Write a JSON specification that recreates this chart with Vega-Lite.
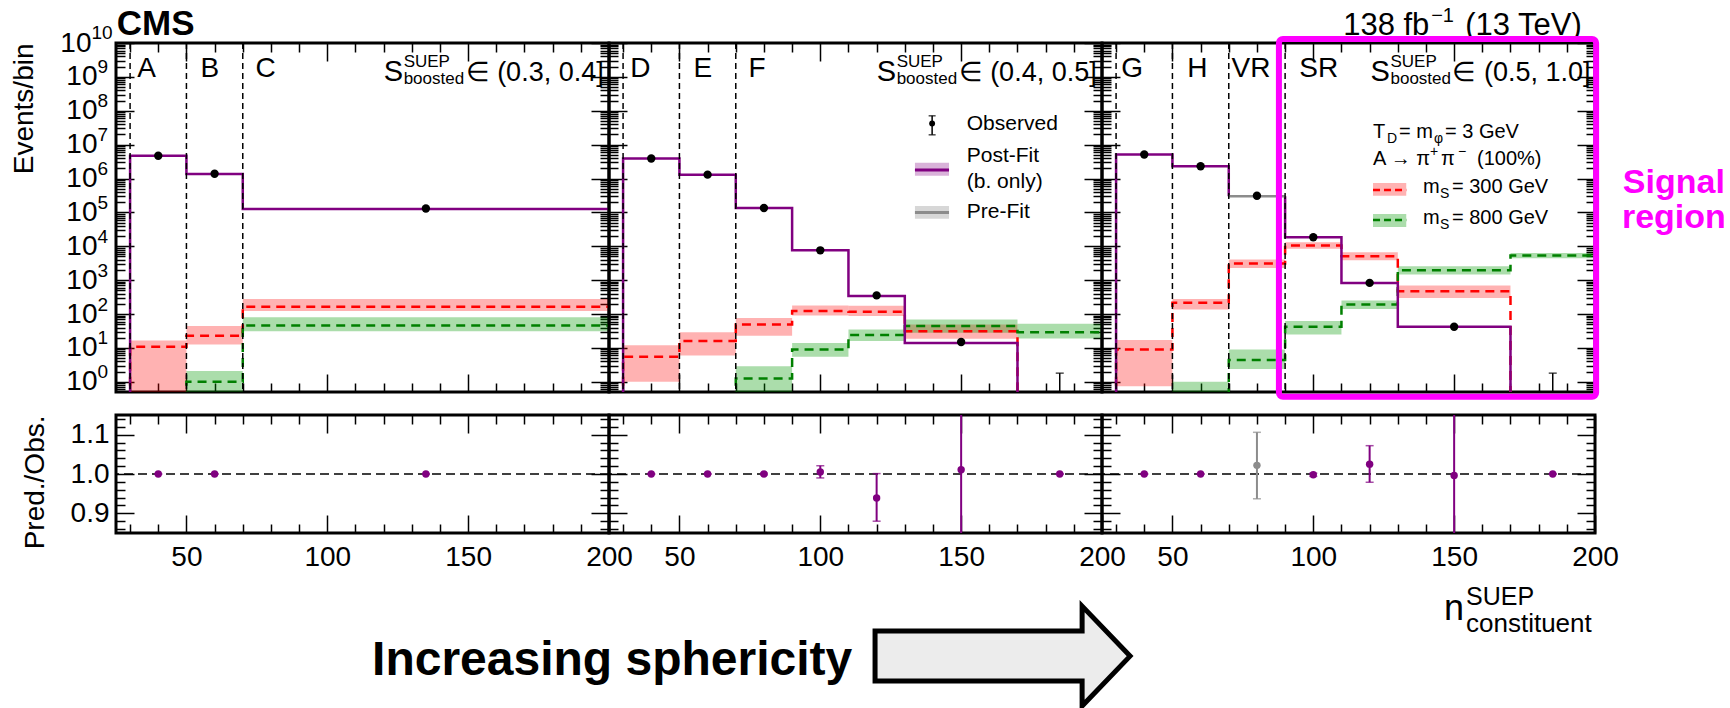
{
"$schema":"https://vega.github.io/schema/vega-lite/v6.json",
"padding":{"left":8,"top":4,"right":0,"bottom":0},
"background":"white",
"config":{
 "font":"Liberation Sans",
 "view":{"stroke":"black","strokeWidth":3},
 "axis":{"grid":false,"domain":false,"tickColor":"black","tickWidth":1.5,"labelColor":"black","titleColor":"black","labelFontSize":28,"titleFontSize":28,"titleFontWeight":"normal","labelFlush":false,"labelOverlap":false,"labelBound":false,"zindex":1},
 "text":{"color":"black"}
},
"datasets":{
"steps":[
{"p":1,"s":"post","x":30,"y":0.1},{"p":1,"s":"post","x":30,"y":4700000},{"p":1,"s":"post","x":50,"y":1370000},{"p":1,"s":"post","x":70,"y":127000},{"p":1,"s":"post","x":200,"y":127000},
{"p":1,"s":"m300","x":30,"y":0.1},{"p":1,"s":"m300","x":30,"y":10.8},{"p":1,"s":"m300","x":50,"y":23},{"p":1,"s":"m300","x":70,"y":163},{"p":1,"s":"m300","x":200,"y":163},
{"p":1,"s":"m800","x":50,"y":0.1},{"p":1,"s":"m800","x":50,"y":1.0},{"p":1,"s":"m800","x":70,"y":46},{"p":1,"s":"m800","x":200,"y":46},
{"p":2,"s":"post","x":30,"y":0.1},{"p":2,"s":"post","x":30,"y":3900000},{"p":2,"s":"post","x":50,"y":1300000},{"p":2,"s":"post","x":70,"y":135000},{"p":2,"s":"post","x":90,"y":7600},{"p":2,"s":"post","x":110,"y":340},{"p":2,"s":"post","x":130,"y":14},{"p":2,"s":"post","x":170,"y":0.1},
{"p":2,"s":"m300","x":30,"y":0.1},{"p":2,"s":"m300","x":30,"y":5.5},{"p":2,"s":"m300","x":50,"y":16},{"p":2,"s":"m300","x":70,"y":49},{"p":2,"s":"m300","x":90,"y":122},{"p":2,"s":"m300","x":110,"y":116},{"p":2,"s":"m300","x":130,"y":31},{"p":2,"s":"m300","x":170,"y":0.1},
{"p":2,"s":"m800","x":70,"y":0.1},{"p":2,"s":"m800","x":70,"y":1.25},{"p":2,"s":"m800","x":90,"y":9},{"p":2,"s":"m800","x":110,"y":24},{"p":2,"s":"m800","x":130,"y":44},{"p":2,"s":"m800","x":170,"y":29},{"p":2,"s":"m800","x":200,"y":29},
{"p":3,"s":"post","g":"a","x":30,"y":0.1},{"p":3,"s":"post","g":"a","x":30,"y":5100000},{"p":3,"s":"post","g":"a","x":50,"y":2300000},{"p":3,"s":"post","g":"a","x":70,"y":300000},
{"p":3,"s":"pre","x":70,"y":300000},{"p":3,"s":"pre","x":90,"y":300000},
{"p":3,"s":"post","g":"b","x":90,"y":300000},{"p":3,"s":"post","g":"b","x":90,"y":18500},{"p":3,"s":"post","g":"b","x":110,"y":830},{"p":3,"s":"post","g":"b","x":130,"y":42},{"p":3,"s":"post","g":"b","x":170,"y":0.1},
{"p":3,"s":"m300","x":30,"y":0.1},{"p":3,"s":"m300","x":30,"y":9},{"p":3,"s":"m300","x":50,"y":214},{"p":3,"s":"m300","x":70,"y":3100},{"p":3,"s":"m300","x":90,"y":10500},{"p":3,"s":"m300","x":110,"y":5100},{"p":3,"s":"m300","x":130,"y":473},{"p":3,"s":"m300","x":170,"y":0.1},
{"p":3,"s":"m800","x":50,"y":0.1},{"p":3,"s":"m800","x":50,"y":0.45},{"p":3,"s":"m800","x":70,"y":4.4},{"p":3,"s":"m800","x":90,"y":42},{"p":3,"s":"m800","x":110,"y":190},{"p":3,"s":"m800","x":130,"y":1970},{"p":3,"s":"m800","x":170,"y":5330},{"p":3,"s":"m800","x":200,"y":5330}
],
"bands":[
{"p":1,"s":"m300","x":30,"x2":50,"lo":0.1,"hi":16.5},{"p":1,"s":"m300","x":50,"x2":70,"lo":12.6,"hi":44},{"p":1,"s":"m300","x":70,"x2":200,"lo":122,"hi":280},
{"p":1,"s":"m800","x":50,"x2":70,"lo":0.1,"hi":2.07},{"p":1,"s":"m800","x":70,"x2":200,"lo":31,"hi":81},
{"p":2,"s":"m300","x":30,"x2":50,"lo":1.0,"hi":12},{"p":2,"s":"m300","x":50,"x2":70,"lo":6,"hi":29},{"p":2,"s":"m300","x":70,"x2":90,"lo":23,"hi":77},{"p":2,"s":"m300","x":90,"x2":110,"lo":90,"hi":178},{"p":2,"s":"m300","x":110,"x2":130,"lo":88,"hi":175},{"p":2,"s":"m300","x":130,"x2":170,"lo":18.6,"hi":49},
{"p":2,"s":"m800","x":70,"x2":90,"lo":0.1,"hi":2.9},{"p":2,"s":"m800","x":90,"x2":110,"lo":5.5,"hi":14},{"p":2,"s":"m800","x":110,"x2":130,"lo":16,"hi":35},{"p":2,"s":"m800","x":130,"x2":170,"lo":28,"hi":69},{"p":2,"s":"m800","x":170,"x2":200,"lo":19,"hi":52},
{"p":3,"s":"m300","x":30,"x2":50,"lo":0.74,"hi":17},{"p":3,"s":"m300","x":50,"x2":70,"lo":136,"hi":280},{"p":3,"s":"m300","x":70,"x2":90,"lo":2300,"hi":4050},{"p":3,"s":"m300","x":90,"x2":110,"lo":8400,"hi":13200},{"p":3,"s":"m300","x":110,"x2":130,"lo":3900,"hi":6700},{"p":3,"s":"m300","x":130,"x2":170,"lo":300,"hi":690},
{"p":3,"s":"m800","x":50,"x2":70,"lo":0.1,"hi":1.0},{"p":3,"s":"m800","x":70,"x2":90,"lo":2.4,"hi":9},{"p":3,"s":"m800","x":90,"x2":110,"lo":25,"hi":62},{"p":3,"s":"m800","x":110,"x2":130,"lo":142,"hi":250},{"p":3,"s":"m800","x":130,"x2":170,"lo":1470,"hi":2580},{"p":3,"s":"m800","x":170,"x2":200,"lo":4470,"hi":6300}
],
"obs":[
{"p":1,"x":40,"n":4700000},{"p":1,"x":60,"n":1380000},{"p":1,"x":135,"n":130000},
{"p":2,"x":40,"n":3900000},{"p":2,"x":60,"n":1300000},{"p":2,"x":80,"n":135000},{"p":2,"x":100,"n":7600},{"p":2,"x":120,"n":355},{"p":2,"x":150,"n":15},{"p":2,"x":185,"n":0,"eh":1.8},
{"p":3,"x":40,"n":5100000},{"p":3,"x":60,"n":2300000},{"p":3,"x":80,"n":310000},{"p":3,"x":100,"n":18500},{"p":3,"x":120,"n":830},{"p":3,"x":150,"n":42},{"p":3,"x":185,"n":0,"eh":1.8}
],
"ratio":[
{"p":1,"k":"post","x":40,"r":1.0,"lo":1.0,"hi":1.0},{"p":1,"k":"post","x":60,"r":1.0,"lo":1.0,"hi":1.0},{"p":1,"k":"post","x":135,"r":1.0,"lo":1.0,"hi":1.0},
{"p":2,"k":"post","x":40,"r":1.0,"lo":1.0,"hi":1.0},{"p":2,"k":"post","x":60,"r":1.0,"lo":1.0,"hi":1.0},{"p":2,"k":"post","x":80,"r":1.0,"lo":0.998,"hi":1.002},{"p":2,"k":"post","x":100,"r":1.005,"lo":0.99,"hi":1.021},{"p":2,"k":"post","x":120,"r":0.939,"lo":0.88,"hi":1.001},{"p":2,"k":"post","x":150,"r":1.011,"lo":0.5,"hi":1.5},{"p":2,"k":"post","x":185,"r":1.0,"lo":1.0,"hi":1.0},
{"p":3,"k":"post","x":40,"r":1.0,"lo":1.0,"hi":1.0},{"p":3,"k":"post","x":60,"r":1.0,"lo":1.0,"hi":1.0},{"p":3,"k":"pre","x":80,"r":1.022,"lo":0.937,"hi":1.106},{"p":3,"k":"post","x":100,"r":0.998,"lo":0.994,"hi":1.002},{"p":3,"k":"post","x":120,"r":1.025,"lo":0.979,"hi":1.072},{"p":3,"k":"post","x":150,"r":0.996,"lo":0.5,"hi":1.5},{"p":3,"k":"post","x":185,"r":1.0,"lo":1.0,"hi":1.0}
],
"regions":[
{"p":1,"lab":"A","edge":30,"lx":32.5},{"p":1,"lab":"B","edge":50,"lx":55},{"p":1,"lab":"C","edge":70,"lx":74.5},
{"p":2,"lab":"D","edge":30,"lx":32.5},{"p":2,"lab":"E","edge":50,"lx":55},{"p":2,"lab":"F","edge":70,"lx":74.5},
{"p":3,"lab":"G","edge":30,"lx":31.8},{"p":3,"lab":"H","edge":50,"lx":55.3},{"p":3,"lab":"VR","edge":70,"lx":71},{"p":3,"lab":"SR","edge":90,"lx":95}
]
},
"bounds":"flush",
"columns":3,
"spacing":{"row":23,"column":0},
"concat":[
{"width":493,"height":349,"data":{"values":[{}]},"resolve":{"axis":{"x":"independent","y":"independent"}},
"layer":[
 {"data":{"name":"bands"},"transform":[{"filter":"datum.p==1 && datum.s=='m300'"}],"mark":{"type":"rect","color":"#ff0000","opacity":0.3,"clip":true},
  "encoding":{"x":{"field":"x","type":"quantitative","scale":{"type":"linear","domain":[25,200],"nice":false,"zero":false},"axis":{"orient":"bottom","values":[50,100,150,200],"tickSize":18,"offset":-18,"labels":false,"title":null}},"x2":{"field":"x2"},
   "y":{"field":"lo","type":"quantitative","scale":{"type":"log","domain":[0.5,10000000000],"nice":false},"axis":{"orient":"left","values":[1,10,100,1000,10000,100000,1000000,10000000,100000000,1000000000,10000000000],"tickSize":18,"offset":-18,"labels":false,"title":null}},"y2":{"field":"hi"}}},
 {"data":{"name":"bands"},"transform":[{"filter":"datum.p==1 && datum.s=='m800'"}],"mark":{"type":"rect","color":"#009900","opacity":0.33,"clip":true},
  "encoding":{"x":{"field":"x","type":"quantitative","scale":{"type":"linear","domain":[25,200],"nice":false,"zero":false},"axis":{"orient":"bottom","values":[30,40,60,70,80,90,110,120,130,140,160,170,180,190],"tickSize":9,"offset":-9,"labels":false,"title":null}},"x2":{"field":"x2"},
   "y":{"field":"lo","type":"quantitative","scale":{"type":"log","domain":[0.5,10000000000],"nice":false},"axis":{"orient":"left","values":[0.6,0.7,0.8,0.9,2,3,4,5,6,7,8,9,20,30,40,50,60,70,80,90,200,300,400,500,600,700,800,900,2000,3000,4000,5000,6000,7000,8000,9000,20000,30000,40000,50000,60000,70000,80000,90000,200000,300000,400000,500000,600000,700000,800000,900000,2e6,3e6,4e6,5e6,6e6,7e6,8e6,9e6,2e7,3e7,4e7,5e7,6e7,7e7,8e7,9e7,2e8,3e8,4e8,5e8,6e8,7e8,8e8,9e8,2e9,3e9,4e9,5e9,6e9,7e9,8e9,9e9],"tickSize":9,"offset":-9,"labels":false,"title":null}},"y2":{"field":"hi"}}},
 {"data":{"name":"steps"},"transform":[{"filter":"datum.p==1 && datum.s=='m300'"}],"mark":{"type":"line","interpolate":"step-after","color":"#ff0000","strokeWidth":2.5,"strokeDash":[9,6],"clip":true},
  "encoding":{"x":{"field":"x","type":"quantitative","scale":{"type":"linear","domain":[25,200],"nice":false,"zero":false},"axis":{"orient":"top","values":[50,100,150,200],"tickSize":18,"offset":-18,"labels":false,"title":null}},
   "y":{"field":"y","type":"quantitative","scale":{"type":"log","domain":[0.5,10000000000],"nice":false},"axis":{"orient":"right","values":[1,10,100,1000,10000,100000,1000000,10000000,100000000,1000000000,10000000000],"tickSize":18,"offset":-18,"labels":false,"title":null}},"order":{"value":null}}},
 {"data":{"name":"steps"},"transform":[{"filter":"datum.p==1 && datum.s=='m800'"}],"mark":{"type":"line","interpolate":"step-after","color":"#008000","strokeWidth":2.5,"strokeDash":[9,6],"clip":true},
  "encoding":{"x":{"field":"x","type":"quantitative","scale":{"type":"linear","domain":[25,200],"nice":false,"zero":false},"axis":{"orient":"top","values":[30,40,60,70,80,90,110,120,130,140,160,170,180,190],"tickSize":9,"offset":-9,"labels":false,"title":null}},
   "y":{"field":"y","type":"quantitative","scale":{"type":"log","domain":[0.5,10000000000],"nice":false},"axis":{"orient":"right","values":[0.6,0.7,0.8,0.9,2,3,4,5,6,7,8,9,20,30,40,50,60,70,80,90,200,300,400,500,600,700,800,900,2000,3000,4000,5000,6000,7000,8000,9000,20000,30000,40000,50000,60000,70000,80000,90000,200000,300000,400000,500000,600000,700000,800000,900000,2e6,3e6,4e6,5e6,6e6,7e6,8e6,9e6,2e7,3e7,4e7,5e7,6e7,7e7,8e7,9e7,2e8,3e8,4e8,5e8,6e8,7e8,8e8,9e8,2e9,3e9,4e9,5e9,6e9,7e9,8e9,9e9],"tickSize":9,"offset":-9,"labels":false,"title":null}},"order":{"value":null}}},
 {"data":{"name":"steps"},"transform":[{"filter":"datum.p==1 && datum.s=='post'"}],"mark":{"type":"line","interpolate":"step-after","color":"#800080","strokeWidth":2.5,"clip":true},
  "encoding":{"x":{"field":"x","type":"quantitative","scale":{"type":"linear","domain":[25,200],"nice":false,"zero":false},"axis":null},
   "y":{"field":"y","type":"quantitative","scale":{"type":"log","domain":[0.5,10000000000],"nice":false},"axis":{"orient":"left","values":[1,10,100,1000,10000,100000,1000000,10000000,100000000,1000000000],"ticks":false,"labelExpr":"'10'","labelPadding":19,"labelAlign":"right","labelBaseline":"middle","title":"Events/bin","titleX":-84,"titleY":0,"titleAlign":"right","titleAngle":-90,"titleBaseline":"alphabetic"}},"detail":{"field":"g"},"order":{"value":null}}},
 {"data":{"name":"steps"},"transform":[{"filter":"datum.p==1 && datum.s=='pre'"}],"mark":{"type":"line","interpolate":"step-after","color":"#8c8c8c","strokeWidth":2.5,"clip":true},
  "encoding":{"x":{"field":"x","type":"quantitative","scale":{"type":"linear","domain":[25,200],"nice":false,"zero":false},"axis":null},
   "y":{"field":"y","type":"quantitative","scale":{"type":"log","domain":[0.5,10000000000],"nice":false},"axis":{"orient":"left","values":[10000000000],"ticks":false,"labelExpr":"'10'","labelPadding":25,"labelAlign":"right","labelBaseline":"middle","title":null}},"order":{"value":null}}},
 {"data":{"name":"regions"},"transform":[{"filter":"datum.p==1"}],"mark":{"type":"rule","color":"black","strokeWidth":1.5,"strokeDash":[6,4]},
  "encoding":{"x":{"field":"edge","type":"quantitative","scale":{"type":"linear","domain":[25,200],"nice":false,"zero":false},"axis":null}}},
 {"data":{"name":"obs"},"transform":[{"filter":"datum.p==1 && datum.n>0"}],"mark":{"type":"circle","color":"black","size":70,"opacity":1},
  "encoding":{"x":{"field":"x","type":"quantitative","scale":{"type":"linear","domain":[25,200],"nice":false,"zero":false},"axis":null},
   "y":{"field":"n","type":"quantitative","scale":{"type":"log","domain":[0.5,10000000000],"nice":false},"axis":{"orient":"left","values":[1,10,100,1000,10000,100000,1000000,10000000,100000000,1000000000],"ticks":false,"labelExpr":"'' + round(log(datum.value)/LN10)","labelPadding":19,"labelFontSize":19,"labelAlign":"left","labelBaseline":"middle","labelOffset":-10,"title":null}}}},
 {"data":{"name":"obs"},"transform":[{"filter":"datum.p==1 && datum.n==0"}],"mark":{"type":"rule","color":"black","strokeWidth":1.5},
  "encoding":{"x":{"field":"x","type":"quantitative","scale":{"type":"linear","domain":[25,200],"nice":false,"zero":false},"axis":null},
   "y":{"field":"eh","type":"quantitative","scale":{"type":"log","domain":[0.5,10000000000],"nice":false},"axis":{"orient":"left","values":[10000000000],"ticks":false,"labelExpr":"'10'","labelPadding":25,"labelFontSize":19,"labelAlign":"left","labelBaseline":"middle","labelOffset":-11,"title":null}},"y2":{"value":"height"}}},
 {"data":{"name":"regions"},"transform":[{"filter":"datum.p==1"}],"mark":{"type":"text","align":"left","baseline":"alphabetic","fontSize":28},
  "encoding":{"x":{"field":"lx","type":"quantitative","scale":{"type":"linear","domain":[25,200],"nice":false,"zero":false},"axis":null},"y":{"datum":1000000000,"type":"quantitative","scale":{"type":"log","domain":[0.5,10000000000],"nice":false},"axis":null},"text":{"field":"lab"}}},
 {"mark":{"type":"text","text":"S","align":"left","baseline":"alphabetic","fontSize":29,"dy":4},"encoding":{"x":{"datum":120,"type":"quantitative","axis":null},"y":{"datum":1000000000,"type":"quantitative","axis":null}}},
 {"mark":{"type":"text","text":"SUEP","align":"left","baseline":"alphabetic","fontSize":17,"dx":20,"dy":-10},"encoding":{"x":{"datum":120,"type":"quantitative","axis":null},"y":{"datum":1000000000,"type":"quantitative","axis":null}}},
 {"mark":{"type":"text","text":"boosted","align":"left","baseline":"alphabetic","fontSize":17,"dx":20,"dy":7},"encoding":{"x":{"datum":120,"type":"quantitative","axis":null},"y":{"datum":1000000000,"type":"quantitative","axis":null}}},
 {"mark":{"type":"text","text":"∈ (0.3, 0.4]","align":"left","baseline":"alphabetic","fontSize":27,"dx":82,"dy":4},"encoding":{"x":{"datum":120,"type":"quantitative","axis":null},"y":{"datum":1000000000,"type":"quantitative","axis":null}}},
 {"mark":{"type":"text","text":"CMS","align":"left","baseline":"alphabetic","fontSize":35,"fontWeight":"bold","dy":-8},"encoding":{"x":{"datum":25.3,"type":"quantitative","axis":null},"y":{"datum":10000000000,"type":"quantitative","axis":null}}}
]},
{"width":493,"height":349,"data":{"values":[{}]},"resolve":{"axis":{"x":"independent","y":"independent"}},
"layer":[
 {"data":{"name":"bands"},"transform":[{"filter":"datum.p==2 && datum.s=='m300'"}],"mark":{"type":"rect","color":"#ff0000","opacity":0.3,"clip":true},
  "encoding":{"x":{"field":"x","type":"quantitative","scale":{"type":"linear","domain":[25,200],"nice":false,"zero":false},"axis":{"orient":"bottom","values":[50,100,150,200],"tickSize":18,"offset":-18,"labels":false,"title":null}},"x2":{"field":"x2"},
   "y":{"field":"lo","type":"quantitative","scale":{"type":"log","domain":[0.5,10000000000],"nice":false},"axis":{"orient":"left","values":[1,10,100,1000,10000,100000,1000000,10000000,100000000,1000000000,10000000000],"tickSize":18,"offset":-18,"labels":false,"title":null}},"y2":{"field":"hi"}}},
 {"data":{"name":"bands"},"transform":[{"filter":"datum.p==2 && datum.s=='m800'"}],"mark":{"type":"rect","color":"#009900","opacity":0.33,"clip":true},
  "encoding":{"x":{"field":"x","type":"quantitative","scale":{"type":"linear","domain":[25,200],"nice":false,"zero":false},"axis":{"orient":"bottom","values":[30,40,60,70,80,90,110,120,130,140,160,170,180,190],"tickSize":9,"offset":-9,"labels":false,"title":null}},"x2":{"field":"x2"},
   "y":{"field":"lo","type":"quantitative","scale":{"type":"log","domain":[0.5,10000000000],"nice":false},"axis":{"orient":"left","values":[0.6,0.7,0.8,0.9,2,3,4,5,6,7,8,9,20,30,40,50,60,70,80,90,200,300,400,500,600,700,800,900,2000,3000,4000,5000,6000,7000,8000,9000,20000,30000,40000,50000,60000,70000,80000,90000,200000,300000,400000,500000,600000,700000,800000,900000,2e6,3e6,4e6,5e6,6e6,7e6,8e6,9e6,2e7,3e7,4e7,5e7,6e7,7e7,8e7,9e7,2e8,3e8,4e8,5e8,6e8,7e8,8e8,9e8,2e9,3e9,4e9,5e9,6e9,7e9,8e9,9e9],"tickSize":9,"offset":-9,"labels":false,"title":null}},"y2":{"field":"hi"}}},
 {"data":{"name":"steps"},"transform":[{"filter":"datum.p==2 && datum.s=='m300'"}],"mark":{"type":"line","interpolate":"step-after","color":"#ff0000","strokeWidth":2.5,"strokeDash":[9,6],"clip":true},
  "encoding":{"x":{"field":"x","type":"quantitative","scale":{"type":"linear","domain":[25,200],"nice":false,"zero":false},"axis":{"orient":"top","values":[50,100,150,200],"tickSize":18,"offset":-18,"labels":false,"title":null}},
   "y":{"field":"y","type":"quantitative","scale":{"type":"log","domain":[0.5,10000000000],"nice":false},"axis":{"orient":"right","values":[1,10,100,1000,10000,100000,1000000,10000000,100000000,1000000000,10000000000],"tickSize":18,"offset":-18,"labels":false,"title":null}},"order":{"value":null}}},
 {"data":{"name":"steps"},"transform":[{"filter":"datum.p==2 && datum.s=='m800'"}],"mark":{"type":"line","interpolate":"step-after","color":"#008000","strokeWidth":2.5,"strokeDash":[9,6],"clip":true},
  "encoding":{"x":{"field":"x","type":"quantitative","scale":{"type":"linear","domain":[25,200],"nice":false,"zero":false},"axis":{"orient":"top","values":[30,40,60,70,80,90,110,120,130,140,160,170,180,190],"tickSize":9,"offset":-9,"labels":false,"title":null}},
   "y":{"field":"y","type":"quantitative","scale":{"type":"log","domain":[0.5,10000000000],"nice":false},"axis":{"orient":"right","values":[0.6,0.7,0.8,0.9,2,3,4,5,6,7,8,9,20,30,40,50,60,70,80,90,200,300,400,500,600,700,800,900,2000,3000,4000,5000,6000,7000,8000,9000,20000,30000,40000,50000,60000,70000,80000,90000,200000,300000,400000,500000,600000,700000,800000,900000,2e6,3e6,4e6,5e6,6e6,7e6,8e6,9e6,2e7,3e7,4e7,5e7,6e7,7e7,8e7,9e7,2e8,3e8,4e8,5e8,6e8,7e8,8e8,9e8,2e9,3e9,4e9,5e9,6e9,7e9,8e9,9e9],"tickSize":9,"offset":-9,"labels":false,"title":null}},"order":{"value":null}}},
 {"data":{"name":"steps"},"transform":[{"filter":"datum.p==2 && datum.s=='post'"}],"mark":{"type":"line","interpolate":"step-after","color":"#800080","strokeWidth":2.5,"clip":true},
  "encoding":{"x":{"field":"x","type":"quantitative","scale":{"type":"linear","domain":[25,200],"nice":false,"zero":false},"axis":null},
   "y":{"field":"y","type":"quantitative","scale":{"type":"log","domain":[0.5,10000000000],"nice":false},"axis":null},"detail":{"field":"g"},"order":{"value":null}}},
 {"data":{"name":"regions"},"transform":[{"filter":"datum.p==2"}],"mark":{"type":"rule","color":"black","strokeWidth":1.5,"strokeDash":[6,4]},
  "encoding":{"x":{"field":"edge","type":"quantitative","scale":{"type":"linear","domain":[25,200],"nice":false,"zero":false},"axis":null}}},
 {"data":{"name":"obs"},"transform":[{"filter":"datum.p==2 && datum.n>0"}],"mark":{"type":"circle","color":"black","size":70,"opacity":1},
  "encoding":{"x":{"field":"x","type":"quantitative","scale":{"type":"linear","domain":[25,200],"nice":false,"zero":false},"axis":null},
   "y":{"field":"n","type":"quantitative","scale":{"type":"log","domain":[0.5,10000000000],"nice":false},"axis":null}}},
 {"data":{"name":"obs"},"transform":[{"filter":"datum.p==2 && datum.n==0"}],"mark":{"type":"rule","color":"black","strokeWidth":1.5},
  "encoding":{"x":{"field":"x","type":"quantitative","scale":{"type":"linear","domain":[25,200],"nice":false,"zero":false},"axis":null},
   "y":{"field":"eh","type":"quantitative","scale":{"type":"log","domain":[0.5,10000000000],"nice":false},"axis":null},"y2":{"value":"height"}}},
 {"data":{"name":"obs"},"transform":[{"filter":"datum.p==2 && datum.n==0"}],"mark":{"type":"tick","orient":"horizontal","color":"black","size":8,"thickness":1.5},
  "encoding":{"x":{"field":"x","type":"quantitative","scale":{"type":"linear","domain":[25,200],"nice":false,"zero":false},"axis":null},
   "y":{"field":"eh","type":"quantitative","scale":{"type":"log","domain":[0.5,10000000000],"nice":false},"axis":null}}},
 {"data":{"name":"regions"},"transform":[{"filter":"datum.p==2"}],"mark":{"type":"text","align":"left","baseline":"alphabetic","fontSize":28},
  "encoding":{"x":{"field":"lx","type":"quantitative","scale":{"type":"linear","domain":[25,200],"nice":false,"zero":false},"axis":null},"y":{"datum":1000000000,"type":"quantitative","scale":{"type":"log","domain":[0.5,10000000000],"nice":false},"axis":null},"text":{"field":"lab"}}},
 {"mark":{"type":"text","text":"S","align":"left","baseline":"alphabetic","fontSize":29,"dy":4},"encoding":{"x":{"datum":120,"type":"quantitative","axis":null},"y":{"datum":1000000000,"type":"quantitative","axis":null}}},
 {"mark":{"type":"text","text":"SUEP","align":"left","baseline":"alphabetic","fontSize":17,"dx":20,"dy":-10},"encoding":{"x":{"datum":120,"type":"quantitative","axis":null},"y":{"datum":1000000000,"type":"quantitative","axis":null}}},
 {"mark":{"type":"text","text":"boosted","align":"left","baseline":"alphabetic","fontSize":17,"dx":20,"dy":7},"encoding":{"x":{"datum":120,"type":"quantitative","axis":null},"y":{"datum":1000000000,"type":"quantitative","axis":null}}},
 {"mark":{"type":"text","text":"∈ (0.4, 0.5]","align":"left","baseline":"alphabetic","fontSize":27,"dx":82,"dy":4},"encoding":{"x":{"datum":120,"type":"quantitative","axis":null},"y":{"datum":1000000000,"type":"quantitative","axis":null}}},
 {"mark":{"type":"rule","color":"black","strokeWidth":1.5},"encoding":{"x":{"datum":139.7,"type":"quantitative","axis":null},"y":{"datum":71000000,"type":"quantitative","axis":null},"y2":{"datum":19500000}}},
 {"mark":{"type":"tick","orient":"horizontal","color":"black","size":7,"thickness":1.5},"encoding":{"x":{"datum":139.7,"type":"quantitative","axis":null},"y":{"datum":71000000,"type":"quantitative","axis":null}}},
 {"mark":{"type":"tick","orient":"horizontal","color":"black","size":7,"thickness":1.5},"encoding":{"x":{"datum":139.7,"type":"quantitative","axis":null},"y":{"datum":19500000,"type":"quantitative","axis":null}}},
 {"mark":{"type":"circle","color":"black","size":35,"opacity":1},"encoding":{"x":{"datum":139.7,"type":"quantitative","axis":null},"y":{"datum":42000000,"type":"quantitative","axis":null}}},
 {"mark":{"type":"rect","color":"#800080","opacity":0.3},"encoding":{"x":{"datum":133.6,"type":"quantitative","axis":null},"x2":{"datum":145.7},"y":{"datum":1200000,"type":"quantitative","axis":null},"y2":{"datum":2900000}}},
 {"mark":{"type":"rule","color":"#800080","strokeWidth":3},"encoding":{"x":{"datum":133.6,"type":"quantitative","axis":null},"x2":{"datum":145.7},"y":{"datum":1780000,"type":"quantitative","axis":null}}},
 {"mark":{"type":"rect","color":"#8c8c8c","opacity":0.35},"encoding":{"x":{"datum":133.6,"type":"quantitative","axis":null},"x2":{"datum":145.7},"y":{"datum":65000,"type":"quantitative","axis":null},"y2":{"datum":155000}}},
 {"mark":{"type":"rule","color":"#8c8c8c","strokeWidth":3},"encoding":{"x":{"datum":133.6,"type":"quantitative","axis":null},"x2":{"datum":145.7},"y":{"datum":100000,"type":"quantitative","axis":null}}},
 {"mark":{"type":"text","text":"Observed","align":"left","baseline":"middle","fontSize":21},"encoding":{"x":{"datum":152,"type":"quantitative","axis":null},"y":{"datum":42000000,"type":"quantitative","axis":null}}},
 {"mark":{"type":"text","text":"Post-Fit","align":"left","baseline":"middle","fontSize":21},"encoding":{"x":{"datum":152,"type":"quantitative","axis":null},"y":{"datum":4600000,"type":"quantitative","axis":null}}},
 {"mark":{"type":"text","text":"(b. only)","align":"left","baseline":"middle","fontSize":21},"encoding":{"x":{"datum":152,"type":"quantitative","axis":null},"y":{"datum":790000,"type":"quantitative","axis":null}}},
 {"mark":{"type":"text","text":"Pre-Fit","align":"left","baseline":"middle","fontSize":21},"encoding":{"x":{"datum":152,"type":"quantitative","axis":null},"y":{"datum":100000,"type":"quantitative","axis":null}}}
]},
{"width":493,"height":349,"data":{"values":[{}]},"resolve":{"axis":{"x":"independent","y":"independent"}},
"layer":[
 {"data":{"name":"bands"},"transform":[{"filter":"datum.p==3 && datum.s=='m300'"}],"mark":{"type":"rect","color":"#ff0000","opacity":0.3,"clip":true},
  "encoding":{"x":{"field":"x","type":"quantitative","scale":{"type":"linear","domain":[25,200],"nice":false,"zero":false},"axis":{"orient":"bottom","values":[50,100,150,200],"tickSize":18,"offset":-18,"labels":false,"title":null}},"x2":{"field":"x2"},
   "y":{"field":"lo","type":"quantitative","scale":{"type":"log","domain":[0.5,10000000000],"nice":false},"axis":{"orient":"left","values":[1,10,100,1000,10000,100000,1000000,10000000,100000000,1000000000,10000000000],"tickSize":18,"offset":-18,"labels":false,"title":null}},"y2":{"field":"hi"}}},
 {"data":{"name":"bands"},"transform":[{"filter":"datum.p==3 && datum.s=='m800'"}],"mark":{"type":"rect","color":"#009900","opacity":0.33,"clip":true},
  "encoding":{"x":{"field":"x","type":"quantitative","scale":{"type":"linear","domain":[25,200],"nice":false,"zero":false},"axis":{"orient":"bottom","values":[30,40,60,70,80,90,110,120,130,140,160,170,180,190],"tickSize":9,"offset":-9,"labels":false,"title":null}},"x2":{"field":"x2"},
   "y":{"field":"lo","type":"quantitative","scale":{"type":"log","domain":[0.5,10000000000],"nice":false},"axis":{"orient":"left","values":[0.6,0.7,0.8,0.9,2,3,4,5,6,7,8,9,20,30,40,50,60,70,80,90,200,300,400,500,600,700,800,900,2000,3000,4000,5000,6000,7000,8000,9000,20000,30000,40000,50000,60000,70000,80000,90000,200000,300000,400000,500000,600000,700000,800000,900000,2e6,3e6,4e6,5e6,6e6,7e6,8e6,9e6,2e7,3e7,4e7,5e7,6e7,7e7,8e7,9e7,2e8,3e8,4e8,5e8,6e8,7e8,8e8,9e8,2e9,3e9,4e9,5e9,6e9,7e9,8e9,9e9],"tickSize":9,"offset":-9,"labels":false,"title":null}},"y2":{"field":"hi"}}},
 {"data":{"name":"steps"},"transform":[{"filter":"datum.p==3 && datum.s=='m300'"}],"mark":{"type":"line","interpolate":"step-after","color":"#ff0000","strokeWidth":2.5,"strokeDash":[9,6],"clip":true},
  "encoding":{"x":{"field":"x","type":"quantitative","scale":{"type":"linear","domain":[25,200],"nice":false,"zero":false},"axis":{"orient":"top","values":[50,100,150,200],"tickSize":18,"offset":-18,"labels":false,"title":null}},
   "y":{"field":"y","type":"quantitative","scale":{"type":"log","domain":[0.5,10000000000],"nice":false},"axis":{"orient":"right","values":[1,10,100,1000,10000,100000,1000000,10000000,100000000,1000000000,10000000000],"tickSize":18,"offset":-18,"labels":false,"title":null}},"order":{"value":null}}},
 {"data":{"name":"steps"},"transform":[{"filter":"datum.p==3 && datum.s=='m800'"}],"mark":{"type":"line","interpolate":"step-after","color":"#008000","strokeWidth":2.5,"strokeDash":[9,6],"clip":true},
  "encoding":{"x":{"field":"x","type":"quantitative","scale":{"type":"linear","domain":[25,200],"nice":false,"zero":false},"axis":{"orient":"top","values":[30,40,60,70,80,90,110,120,130,140,160,170,180,190],"tickSize":9,"offset":-9,"labels":false,"title":null}},
   "y":{"field":"y","type":"quantitative","scale":{"type":"log","domain":[0.5,10000000000],"nice":false},"axis":{"orient":"right","values":[0.6,0.7,0.8,0.9,2,3,4,5,6,7,8,9,20,30,40,50,60,70,80,90,200,300,400,500,600,700,800,900,2000,3000,4000,5000,6000,7000,8000,9000,20000,30000,40000,50000,60000,70000,80000,90000,200000,300000,400000,500000,600000,700000,800000,900000,2e6,3e6,4e6,5e6,6e6,7e6,8e6,9e6,2e7,3e7,4e7,5e7,6e7,7e7,8e7,9e7,2e8,3e8,4e8,5e8,6e8,7e8,8e8,9e8,2e9,3e9,4e9,5e9,6e9,7e9,8e9,9e9],"tickSize":9,"offset":-9,"labels":false,"title":null}},"order":{"value":null}}},
 {"data":{"name":"steps"},"transform":[{"filter":"datum.p==3 && datum.s=='post'"}],"mark":{"type":"line","interpolate":"step-after","color":"#800080","strokeWidth":2.5,"clip":true},
  "encoding":{"x":{"field":"x","type":"quantitative","scale":{"type":"linear","domain":[25,200],"nice":false,"zero":false},"axis":null},
   "y":{"field":"y","type":"quantitative","scale":{"type":"log","domain":[0.5,10000000000],"nice":false},"axis":null},"detail":{"field":"g"},"order":{"value":null}}},
 {"data":{"name":"steps"},"transform":[{"filter":"datum.p==3 && datum.s=='pre'"}],"mark":{"type":"line","interpolate":"step-after","color":"#8c8c8c","strokeWidth":2.5,"clip":true},
  "encoding":{"x":{"field":"x","type":"quantitative","scale":{"type":"linear","domain":[25,200],"nice":false,"zero":false},"axis":null},
   "y":{"field":"y","type":"quantitative","scale":{"type":"log","domain":[0.5,10000000000],"nice":false},"axis":null},"order":{"value":null}}},
 {"data":{"name":"regions"},"transform":[{"filter":"datum.p==3"}],"mark":{"type":"rule","color":"black","strokeWidth":1.5,"strokeDash":[6,4]},
  "encoding":{"x":{"field":"edge","type":"quantitative","scale":{"type":"linear","domain":[25,200],"nice":false,"zero":false},"axis":null}}},
 {"data":{"name":"obs"},"transform":[{"filter":"datum.p==3 && datum.n>0"}],"mark":{"type":"circle","color":"black","size":70,"opacity":1},
  "encoding":{"x":{"field":"x","type":"quantitative","scale":{"type":"linear","domain":[25,200],"nice":false,"zero":false},"axis":null},
   "y":{"field":"n","type":"quantitative","scale":{"type":"log","domain":[0.5,10000000000],"nice":false},"axis":null}}},
 {"data":{"name":"obs"},"transform":[{"filter":"datum.p==3 && datum.n==0"}],"mark":{"type":"rule","color":"black","strokeWidth":1.5},
  "encoding":{"x":{"field":"x","type":"quantitative","scale":{"type":"linear","domain":[25,200],"nice":false,"zero":false},"axis":null},
   "y":{"field":"eh","type":"quantitative","scale":{"type":"log","domain":[0.5,10000000000],"nice":false},"axis":null},"y2":{"value":"height"}}},
 {"data":{"name":"obs"},"transform":[{"filter":"datum.p==3 && datum.n==0"}],"mark":{"type":"tick","orient":"horizontal","color":"black","size":8,"thickness":1.5},
  "encoding":{"x":{"field":"x","type":"quantitative","scale":{"type":"linear","domain":[25,200],"nice":false,"zero":false},"axis":null},
   "y":{"field":"eh","type":"quantitative","scale":{"type":"log","domain":[0.5,10000000000],"nice":false},"axis":null}}},
 {"data":{"name":"regions"},"transform":[{"filter":"datum.p==3"}],"mark":{"type":"text","align":"left","baseline":"alphabetic","fontSize":28},
  "encoding":{"x":{"field":"lx","type":"quantitative","scale":{"type":"linear","domain":[25,200],"nice":false,"zero":false},"axis":null},"y":{"datum":1000000000,"type":"quantitative","scale":{"type":"log","domain":[0.5,10000000000],"nice":false},"axis":null},"text":{"field":"lab"}}},
 {"mark":{"type":"text","text":"S","align":"left","baseline":"alphabetic","fontSize":29,"dy":4},"encoding":{"x":{"datum":120.3,"type":"quantitative","axis":null},"y":{"datum":1000000000,"type":"quantitative","axis":null}}},
 {"mark":{"type":"text","text":"SUEP","align":"left","baseline":"alphabetic","fontSize":17,"dx":20,"dy":-10},"encoding":{"x":{"datum":120.3,"type":"quantitative","axis":null},"y":{"datum":1000000000,"type":"quantitative","axis":null}}},
 {"mark":{"type":"text","text":"boosted","align":"left","baseline":"alphabetic","fontSize":17,"dx":20,"dy":7},"encoding":{"x":{"datum":120.3,"type":"quantitative","axis":null},"y":{"datum":1000000000,"type":"quantitative","axis":null}}},
 {"mark":{"type":"text","text":"∈ (0.5, 1.0]","align":"left","baseline":"alphabetic","fontSize":27,"dx":82,"dy":4},"encoding":{"x":{"datum":120.3,"type":"quantitative","axis":null},"y":{"datum":1000000000,"type":"quantitative","axis":null}}},
 {"mark":{"type":"text","text":"138 fb","align":"left","baseline":"alphabetic","fontSize":31,"dy":-8},"encoding":{"x":{"datum":110.6,"type":"quantitative","axis":null},"y":{"datum":10000000000,"type":"quantitative","axis":null}}},
 {"mark":{"type":"text","text":"−1","align":"left","baseline":"alphabetic","fontSize":20,"dx":88,"dy":-21},"encoding":{"x":{"datum":110.6,"type":"quantitative","axis":null},"y":{"datum":10000000000,"type":"quantitative","axis":null}}},
 {"mark":{"type":"text","text":"(13 TeV)","align":"left","baseline":"alphabetic","fontSize":31,"dx":122,"dy":-8},"encoding":{"x":{"datum":110.6,"type":"quantitative","axis":null},"y":{"datum":10000000000,"type":"quantitative","axis":null}}},
 {"mark":{"type":"text","text":"T","align":"left","baseline":"alphabetic","fontSize":20,"dy":-7},"encoding":{"x":{"datum":121.2,"type":"quantitative","axis":null},"y":{"datum":10000000,"type":"quantitative","axis":null}}},
 {"mark":{"type":"text","text":"D","align":"left","baseline":"alphabetic","fontSize":14,"dx":14,"dy":-2},"encoding":{"x":{"datum":121.2,"type":"quantitative","axis":null},"y":{"datum":10000000,"type":"quantitative","axis":null}}},
 {"mark":{"type":"text","text":"= m","align":"left","baseline":"alphabetic","fontSize":20,"dx":26,"dy":-7},"encoding":{"x":{"datum":121.2,"type":"quantitative","axis":null},"y":{"datum":10000000,"type":"quantitative","axis":null}}},
 {"mark":{"type":"text","text":"φ","align":"left","baseline":"alphabetic","fontSize":14,"dx":61,"dy":-2},"encoding":{"x":{"datum":121.2,"type":"quantitative","axis":null},"y":{"datum":10000000,"type":"quantitative","axis":null}}},
 {"mark":{"type":"text","text":"= 3 GeV","align":"left","baseline":"alphabetic","fontSize":20,"dx":72,"dy":-7},"encoding":{"x":{"datum":121.2,"type":"quantitative","axis":null},"y":{"datum":10000000,"type":"quantitative","axis":null}}},
 {"mark":{"type":"text","text":"A → π","align":"left","baseline":"alphabetic","fontSize":20,"dy":20},"encoding":{"x":{"datum":121.2,"type":"quantitative","axis":null},"y":{"datum":10000000,"type":"quantitative","axis":null}}},
 {"mark":{"type":"text","text":"+","align":"left","baseline":"alphabetic","fontSize":14,"dx":57,"dy":11},"encoding":{"x":{"datum":121.2,"type":"quantitative","axis":null},"y":{"datum":10000000,"type":"quantitative","axis":null}}},
 {"mark":{"type":"text","text":"π","align":"left","baseline":"alphabetic","fontSize":20,"dx":68,"dy":20},"encoding":{"x":{"datum":121.2,"type":"quantitative","axis":null},"y":{"datum":10000000,"type":"quantitative","axis":null}}},
 {"mark":{"type":"text","text":"−","align":"left","baseline":"alphabetic","fontSize":14,"dx":85,"dy":11},"encoding":{"x":{"datum":121.2,"type":"quantitative","axis":null},"y":{"datum":10000000,"type":"quantitative","axis":null}}},
 {"mark":{"type":"text","text":"(100%)","align":"left","baseline":"alphabetic","fontSize":20,"dx":104,"dy":20},"encoding":{"x":{"datum":121.2,"type":"quantitative","axis":null},"y":{"datum":10000000,"type":"quantitative","axis":null}}},
 {"mark":{"type":"text","text":"m","align":"left","baseline":"alphabetic","fontSize":20,"dx":50,"dy":48},"encoding":{"x":{"datum":121.2,"type":"quantitative","axis":null},"y":{"datum":10000000,"type":"quantitative","axis":null}}},
 {"mark":{"type":"text","text":"S","align":"left","baseline":"alphabetic","fontSize":14,"dx":67,"dy":53},"encoding":{"x":{"datum":121.2,"type":"quantitative","axis":null},"y":{"datum":10000000,"type":"quantitative","axis":null}}},
 {"mark":{"type":"text","text":"= 300 GeV","align":"left","baseline":"alphabetic","fontSize":20,"dx":79,"dy":48},"encoding":{"x":{"datum":121.2,"type":"quantitative","axis":null},"y":{"datum":10000000,"type":"quantitative","axis":null}}},
 {"mark":{"type":"text","text":"m","align":"left","baseline":"alphabetic","fontSize":20,"dx":50,"dy":79},"encoding":{"x":{"datum":121.2,"type":"quantitative","axis":null},"y":{"datum":10000000,"type":"quantitative","axis":null}}},
 {"mark":{"type":"text","text":"S","align":"left","baseline":"alphabetic","fontSize":14,"dx":67,"dy":84},"encoding":{"x":{"datum":121.2,"type":"quantitative","axis":null},"y":{"datum":10000000,"type":"quantitative","axis":null}}},
 {"mark":{"type":"text","text":"= 800 GeV","align":"left","baseline":"alphabetic","fontSize":20,"dx":79,"dy":79},"encoding":{"x":{"datum":121.2,"type":"quantitative","axis":null},"y":{"datum":10000000,"type":"quantitative","axis":null}}},
 {"mark":{"type":"rect","color":"#ff0000","opacity":0.3},"encoding":{"x":{"datum":121.2,"type":"quantitative","axis":null},"x2":{"datum":133},"y":{"datum":310000,"type":"quantitative","axis":null},"y2":{"datum":740000}}},
 {"mark":{"type":"rule","color":"#ff0000","strokeWidth":2.5,"strokeDash":[7,4]},"encoding":{"x":{"datum":121.2,"type":"quantitative","axis":null},"x2":{"datum":133},"y":{"datum":460000,"type":"quantitative","axis":null}}},
 {"mark":{"type":"rect","color":"#009900","opacity":0.33},"encoding":{"x":{"datum":121.2,"type":"quantitative","axis":null},"x2":{"datum":133},"y":{"datum":37000,"type":"quantitative","axis":null},"y2":{"datum":90000}}},
 {"mark":{"type":"rule","color":"#008000","strokeWidth":2.5,"strokeDash":[7,4]},"encoding":{"x":{"datum":121.2,"type":"quantitative","axis":null},"x2":{"datum":133},"y":{"datum":60000,"type":"quantitative","axis":null}}},
 {"mark":{"type":"rect","filled":false,"color":"#ff00ff","strokeWidth":6,"cornerRadius":4,"opacity":1},"encoding":{"x":{"datum":87.8,"type":"quantitative","axis":null},"x2":{"datum":200.4},"y":{"datum":13100000000,"type":"quantitative","axis":null},"y2":{"datum":0.36}}},
 {"mark":{"type":"text","text":["Signal","region"],"align":"center","baseline":"alphabetic","fontSize":34,"fontWeight":"bold","color":"#ff00ff","lineHeight":35},"encoding":{"x":{"datum":228,"type":"quantitative","axis":null},"y":{"datum":380000,"type":"quantitative","axis":null}}}
]},
{"width":493,"height":118,"data":{"values":[{}]},"resolve":{"axis":{"x":"independent","y":"independent"}},
"layer":[
 {"mark":{"type":"rule","color":"black","strokeWidth":1.5,"strokeDash":[9,5]},"encoding":{"y":{"datum":1,"type":"quantitative","scale":{"type":"linear","domain":[0.85,1.15],"nice":false,"zero":false},"axis":{"orient":"left","values":[0.9,1,1.1],"tickSize":18,"offset":-18,"labels":false,"title":null}}}},
 {"data":{"name":"ratio"},"transform":[{"filter":"datum.p==1 && datum.k=='post'"}],"mark":{"type":"rule","color":"#800080","strokeWidth":2,"clip":true},
  "encoding":{"x":{"field":"x","type":"quantitative","scale":{"type":"linear","domain":[25,200],"nice":false,"zero":false},"axis":{"orient":"bottom","values":[50,100,150,200],"tickSize":18,"offset":-18,"labels":false,"title":null}},
   "y":{"field":"lo","type":"quantitative","scale":{"type":"linear","domain":[0.85,1.15],"nice":false,"zero":false},"axis":{"orient":"left","values":[0.86,0.88,0.92,0.94,0.96,0.98,1.02,1.04,1.06,1.08,1.12,1.14],"tickSize":9,"offset":-9,"labels":false,"title":null}},"y2":{"field":"hi"}}},
 {"data":{"name":"ratio"},"transform":[{"filter":"datum.p==1 && datum.k=='pre'"}],"mark":{"type":"rule","color":"#8c8c8c","strokeWidth":2,"clip":true},
  "encoding":{"x":{"field":"x","type":"quantitative","scale":{"type":"linear","domain":[25,200],"nice":false,"zero":false},"axis":{"orient":"bottom","values":[30,40,60,70,80,90,110,120,130,140,160,170,180,190],"tickSize":9,"offset":-9,"labels":false,"title":null}},
   "y":{"field":"lo","type":"quantitative","scale":{"type":"linear","domain":[0.85,1.15],"nice":false,"zero":false},"axis":{"orient":"right","values":[0.9,1,1.1],"tickSize":18,"offset":-18,"labels":false,"title":null}},"y2":{"field":"hi"}}},
 {"data":{"name":"ratio"},"transform":[{"filter":"datum.p==1"}],"mark":{"type":"tick","orient":"horizontal","size":8,"thickness":1.5,"clip":true},
  "encoding":{"x":{"field":"x","type":"quantitative","scale":{"type":"linear","domain":[25,200],"nice":false,"zero":false},"axis":{"orient":"top","values":[50,100,150,200],"tickSize":18,"offset":-18,"labels":false,"title":null}},
   "y":{"field":"lo","type":"quantitative","scale":{"type":"linear","domain":[0.85,1.15],"nice":false,"zero":false},"axis":{"orient":"right","values":[0.86,0.88,0.92,0.94,0.96,0.98,1.02,1.04,1.06,1.08,1.12,1.14],"tickSize":9,"offset":-9,"labels":false,"title":null}},
   "color":{"field":"k","type":"nominal","scale":{"domain":["post","pre"],"range":["#800080","#8c8c8c"]},"legend":null}}},
 {"data":{"name":"ratio"},"transform":[{"filter":"datum.p==1"}],"mark":{"type":"tick","orient":"horizontal","size":8,"thickness":1.5,"clip":true},
  "encoding":{"x":{"field":"x","type":"quantitative","scale":{"type":"linear","domain":[25,200],"nice":false,"zero":false},"axis":{"orient":"top","values":[30,40,60,70,80,90,110,120,130,140,160,170,180,190],"tickSize":9,"offset":-9,"labels":false,"title":null}},
   "y":{"field":"hi","type":"quantitative","scale":{"type":"linear","domain":[0.85,1.15],"nice":false,"zero":false},"axis":{"orient":"left","values":[0.9,1,1.1],"ticks":false,"format":".1f","labelPadding":7,"labelBaseline":"middle","title":"Pred./Obs.","titleX":-73,"titleY":0,"titleAlign":"right","titleAngle":-90,"titleBaseline":"alphabetic"}},
   "color":{"field":"k","type":"nominal","scale":{"domain":["post","pre"],"range":["#800080","#8c8c8c"]},"legend":null}}},
 {"data":{"name":"ratio"},"transform":[{"filter":"datum.p==1"}],"mark":{"type":"circle","size":55,"opacity":1},
  "encoding":{"x":{"field":"x","type":"quantitative","scale":{"type":"linear","domain":[25,200],"nice":false,"zero":false},"axis":{"orient":"bottom","values":[50,100,150,200],"ticks":false,"labelPadding":10,"labelBaseline":"top","title":null}},
   "y":{"field":"r","type":"quantitative","scale":{"type":"linear","domain":[0.85,1.15],"nice":false,"zero":false},"axis":null},
   "color":{"field":"k","type":"nominal","scale":{"domain":["post","pre"],"range":["#800080","#8c8c8c"]},"legend":null}}},
 {"mark":{"type":"text","text":"Increasing sphericity","align":"left","baseline":"alphabetic","fontSize":48,"fontWeight":"bold"},"encoding":{"x":{"datum":115.9,"type":"quantitative","axis":null},"y":{"datum":0.489,"type":"quantitative","axis":null}}}
]},
{"width":493,"height":118,"data":{"values":[{}]},"resolve":{"axis":{"x":"independent","y":"independent"}},
"layer":[
 {"mark":{"type":"rule","color":"black","strokeWidth":1.5,"strokeDash":[9,5]},"encoding":{"y":{"datum":1,"type":"quantitative","scale":{"type":"linear","domain":[0.85,1.15],"nice":false,"zero":false},"axis":{"orient":"left","values":[0.9,1,1.1],"tickSize":18,"offset":-18,"labels":false,"title":null}}}},
 {"data":{"name":"ratio"},"transform":[{"filter":"datum.p==2 && datum.k=='post'"}],"mark":{"type":"rule","color":"#800080","strokeWidth":2,"clip":true},
  "encoding":{"x":{"field":"x","type":"quantitative","scale":{"type":"linear","domain":[25,200],"nice":false,"zero":false},"axis":{"orient":"bottom","values":[50,100,150,200],"tickSize":18,"offset":-18,"labels":false,"title":null}},
   "y":{"field":"lo","type":"quantitative","scale":{"type":"linear","domain":[0.85,1.15],"nice":false,"zero":false},"axis":{"orient":"left","values":[0.86,0.88,0.92,0.94,0.96,0.98,1.02,1.04,1.06,1.08,1.12,1.14],"tickSize":9,"offset":-9,"labels":false,"title":null}},"y2":{"field":"hi"}}},
 {"data":{"name":"ratio"},"transform":[{"filter":"datum.p==2 && datum.k=='pre'"}],"mark":{"type":"rule","color":"#8c8c8c","strokeWidth":2,"clip":true},
  "encoding":{"x":{"field":"x","type":"quantitative","scale":{"type":"linear","domain":[25,200],"nice":false,"zero":false},"axis":{"orient":"bottom","values":[30,40,60,70,80,90,110,120,130,140,160,170,180,190],"tickSize":9,"offset":-9,"labels":false,"title":null}},
   "y":{"field":"lo","type":"quantitative","scale":{"type":"linear","domain":[0.85,1.15],"nice":false,"zero":false},"axis":{"orient":"right","values":[0.9,1,1.1],"tickSize":18,"offset":-18,"labels":false,"title":null}},"y2":{"field":"hi"}}},
 {"data":{"name":"ratio"},"transform":[{"filter":"datum.p==2"}],"mark":{"type":"tick","orient":"horizontal","size":8,"thickness":1.5,"clip":true},
  "encoding":{"x":{"field":"x","type":"quantitative","scale":{"type":"linear","domain":[25,200],"nice":false,"zero":false},"axis":{"orient":"top","values":[50,100,150,200],"tickSize":18,"offset":-18,"labels":false,"title":null}},
   "y":{"field":"lo","type":"quantitative","scale":{"type":"linear","domain":[0.85,1.15],"nice":false,"zero":false},"axis":{"orient":"right","values":[0.86,0.88,0.92,0.94,0.96,0.98,1.02,1.04,1.06,1.08,1.12,1.14],"tickSize":9,"offset":-9,"labels":false,"title":null}},
   "color":{"field":"k","type":"nominal","scale":{"domain":["post","pre"],"range":["#800080","#8c8c8c"]},"legend":null}}},
 {"data":{"name":"ratio"},"transform":[{"filter":"datum.p==2"}],"mark":{"type":"tick","orient":"horizontal","size":8,"thickness":1.5,"clip":true},
  "encoding":{"x":{"field":"x","type":"quantitative","scale":{"type":"linear","domain":[25,200],"nice":false,"zero":false},"axis":{"orient":"top","values":[30,40,60,70,80,90,110,120,130,140,160,170,180,190],"tickSize":9,"offset":-9,"labels":false,"title":null}},
   "y":{"field":"hi","type":"quantitative","scale":{"type":"linear","domain":[0.85,1.15],"nice":false,"zero":false},"axis":null},
   "color":{"field":"k","type":"nominal","scale":{"domain":["post","pre"],"range":["#800080","#8c8c8c"]},"legend":null}}},
 {"data":{"name":"ratio"},"transform":[{"filter":"datum.p==2"}],"mark":{"type":"circle","size":55,"opacity":1},
  "encoding":{"x":{"field":"x","type":"quantitative","scale":{"type":"linear","domain":[25,200],"nice":false,"zero":false},"axis":{"orient":"bottom","values":[50,100,150,200],"ticks":false,"labelPadding":10,"labelBaseline":"top","title":null}},
   "y":{"field":"r","type":"quantitative","scale":{"type":"linear","domain":[0.85,1.15],"nice":false,"zero":false},"axis":null},
   "color":{"field":"k","type":"nominal","scale":{"domain":["post","pre"],"range":["#800080","#8c8c8c"]},"legend":null}}},
 {"mark":{"type":"point","shape":"M-1,-0.196L0.624,-0.196L0.624,-0.392L1,0L0.624,0.392L0.624,0.196L-1,0.196Z","size":65025,"filled":true,"fill":"#ececec","stroke":"black","strokeWidth":5,"strokeJoin":"miter","opacity":1},"encoding":{"x":{"datum":164.7,"type":"quantitative","axis":null},"y":{"datum":0.537,"type":"quantitative","axis":null}}}
]},
{"width":493,"height":118,"data":{"values":[{}]},"resolve":{"axis":{"x":"independent","y":"independent"}},
"layer":[
 {"mark":{"type":"rule","color":"black","strokeWidth":1.5,"strokeDash":[9,5]},"encoding":{"y":{"datum":1,"type":"quantitative","scale":{"type":"linear","domain":[0.85,1.15],"nice":false,"zero":false},"axis":{"orient":"left","values":[0.9,1,1.1],"tickSize":18,"offset":-18,"labels":false,"title":null}}}},
 {"data":{"name":"ratio"},"transform":[{"filter":"datum.p==3 && datum.k=='post'"}],"mark":{"type":"rule","color":"#800080","strokeWidth":2,"clip":true},
  "encoding":{"x":{"field":"x","type":"quantitative","scale":{"type":"linear","domain":[25,200],"nice":false,"zero":false},"axis":{"orient":"bottom","values":[50,100,150,200],"tickSize":18,"offset":-18,"labels":false,"title":null}},
   "y":{"field":"lo","type":"quantitative","scale":{"type":"linear","domain":[0.85,1.15],"nice":false,"zero":false},"axis":{"orient":"left","values":[0.86,0.88,0.92,0.94,0.96,0.98,1.02,1.04,1.06,1.08,1.12,1.14],"tickSize":9,"offset":-9,"labels":false,"title":null}},"y2":{"field":"hi"}}},
 {"data":{"name":"ratio"},"transform":[{"filter":"datum.p==3 && datum.k=='pre'"}],"mark":{"type":"rule","color":"#8c8c8c","strokeWidth":2,"clip":true},
  "encoding":{"x":{"field":"x","type":"quantitative","scale":{"type":"linear","domain":[25,200],"nice":false,"zero":false},"axis":{"orient":"bottom","values":[30,40,60,70,80,90,110,120,130,140,160,170,180,190],"tickSize":9,"offset":-9,"labels":false,"title":null}},
   "y":{"field":"lo","type":"quantitative","scale":{"type":"linear","domain":[0.85,1.15],"nice":false,"zero":false},"axis":{"orient":"right","values":[0.9,1,1.1],"tickSize":18,"offset":-18,"labels":false,"title":null}},"y2":{"field":"hi"}}},
 {"data":{"name":"ratio"},"transform":[{"filter":"datum.p==3"}],"mark":{"type":"tick","orient":"horizontal","size":8,"thickness":1.5,"clip":true},
  "encoding":{"x":{"field":"x","type":"quantitative","scale":{"type":"linear","domain":[25,200],"nice":false,"zero":false},"axis":{"orient":"top","values":[50,100,150,200],"tickSize":18,"offset":-18,"labels":false,"title":null}},
   "y":{"field":"lo","type":"quantitative","scale":{"type":"linear","domain":[0.85,1.15],"nice":false,"zero":false},"axis":{"orient":"right","values":[0.86,0.88,0.92,0.94,0.96,0.98,1.02,1.04,1.06,1.08,1.12,1.14],"tickSize":9,"offset":-9,"labels":false,"title":null}},
   "color":{"field":"k","type":"nominal","scale":{"domain":["post","pre"],"range":["#800080","#8c8c8c"]},"legend":null}}},
 {"data":{"name":"ratio"},"transform":[{"filter":"datum.p==3"}],"mark":{"type":"tick","orient":"horizontal","size":8,"thickness":1.5,"clip":true},
  "encoding":{"x":{"field":"x","type":"quantitative","scale":{"type":"linear","domain":[25,200],"nice":false,"zero":false},"axis":{"orient":"top","values":[30,40,60,70,80,90,110,120,130,140,160,170,180,190],"tickSize":9,"offset":-9,"labels":false,"title":null}},
   "y":{"field":"hi","type":"quantitative","scale":{"type":"linear","domain":[0.85,1.15],"nice":false,"zero":false},"axis":null},
   "color":{"field":"k","type":"nominal","scale":{"domain":["post","pre"],"range":["#800080","#8c8c8c"]},"legend":null}}},
 {"data":{"name":"ratio"},"transform":[{"filter":"datum.p==3"}],"mark":{"type":"circle","size":55,"opacity":1},
  "encoding":{"x":{"field":"x","type":"quantitative","scale":{"type":"linear","domain":[25,200],"nice":false,"zero":false},"axis":{"orient":"bottom","values":[50,100,150,200],"ticks":false,"labelPadding":10,"labelBaseline":"top","title":null}},
   "y":{"field":"r","type":"quantitative","scale":{"type":"linear","domain":[0.85,1.15],"nice":false,"zero":false},"axis":null},
   "color":{"field":"k","type":"nominal","scale":{"domain":["post","pre"],"range":["#800080","#8c8c8c"]},"legend":null}}},
 {"mark":{"type":"text","text":"n","align":"left","baseline":"alphabetic","fontSize":36},"encoding":{"x":{"datum":146.4,"type":"quantitative","axis":null},"y":{"datum":0.629,"type":"quantitative","axis":null}}},
 {"mark":{"type":"text","text":"SUEP","align":"left","baseline":"alphabetic","fontSize":25,"dx":22,"dy":-15},"encoding":{"x":{"datum":146.4,"type":"quantitative","axis":null},"y":{"datum":0.629,"type":"quantitative","axis":null}}},
 {"mark":{"type":"text","text":"constituent","align":"left","baseline":"alphabetic","fontSize":26,"dx":22,"dy":12},"encoding":{"x":{"datum":146.4,"type":"quantitative","axis":null},"y":{"datum":0.629,"type":"quantitative","axis":null}}}
]}
]
}
